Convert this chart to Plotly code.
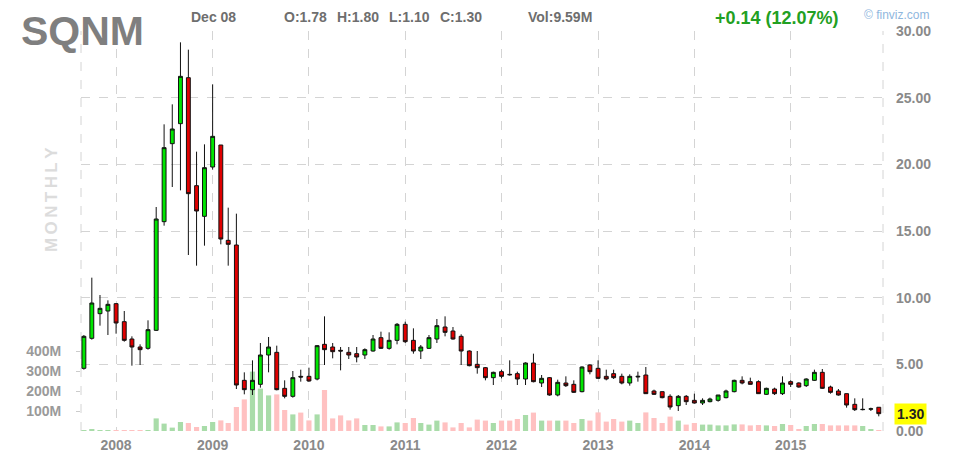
import pandas as pd
import plotly.graph_objects as go

# monthly bars, Sep 2007 .. Dec 2015
months = pd.date_range("2007-09-01", periods=100, freq="MS")

opens = [
    4.70, 6.95, 8.80, 9.00,
    9.55, 8.20, 6.90, 6.30, 6.20, 7.55, 15.70, 21.55, 23.05, 26.50, 18.40, 16.10,
    19.80, 21.45, 14.30, 13.95, 3.80, 3.10, 3.50, 5.70, 5.90, 3.20, 2.60, 4.10,
    4.10, 3.90, 6.50, 6.30, 6.05, 5.90, 5.80, 5.70, 6.00, 7.00, 6.20, 6.80,
    8.00, 6.80, 6.00, 6.20, 6.90, 7.80, 7.50, 7.10, 6.00, 5.00, 4.75, 4.00,
    4.45, 4.25, 4.30, 3.90, 5.10, 3.60, 4.00, 2.70, 3.60, 3.50, 2.95, 4.95,
    4.70, 4.10, 4.30, 4.10, 3.60, 4.05, 4.20, 3.00, 2.95, 2.60, 1.90, 2.60,
    2.30, 2.10, 2.20, 2.30, 2.50, 2.95, 3.80, 3.70, 3.70, 2.75, 3.15, 2.80,
    3.70, 3.60, 3.40, 3.80, 4.40, 3.30, 3.00, 2.80, 2.00, 1.60, 1.64, 1.78,
]
highs = [
    7.20, 11.50, 10.20, 9.80,
    9.60, 9.00, 7.10, 6.50, 8.30, 16.80, 23.00, 24.50, 29.15, 28.60, 20.95, 21.50,
    26.00, 21.45, 16.75, 16.30, 4.40, 5.30, 6.60, 7.05, 6.40, 3.80, 4.50, 4.60,
    4.75, 6.45, 8.60, 6.60, 6.30, 6.30, 6.30, 6.20, 7.20, 7.45, 7.40, 8.10,
    8.20, 7.70, 6.45, 7.20, 8.40, 8.60, 7.80, 7.25, 6.05, 6.00, 4.80, 4.45,
    4.60, 5.30, 4.45, 5.15, 5.80, 4.20, 4.05, 3.85, 4.10, 3.80, 4.85, 5.00,
    5.30, 4.60, 4.60, 4.30, 4.25, 4.45, 4.80, 3.10, 2.95, 2.75, 2.70, 2.70,
    2.80, 2.45, 2.50, 2.70, 3.10, 3.85, 4.10, 4.00, 3.80, 3.25, 3.25, 4.10,
    3.80, 3.65, 3.95, 4.60, 4.65, 3.40, 3.15, 2.82, 2.45, 2.45, 1.75, 1.80,
]
lows = [
    4.60, 6.85, 7.90, 7.20,
    7.30, 6.70, 4.90, 4.95, 6.10, 7.50, 15.40, 18.30, 18.05, 13.20, 12.40, 13.90,
    19.60, 14.00, 12.40, 3.15, 2.75, 2.70, 3.25, 4.40, 3.05, 2.45, 2.50, 3.70,
    3.70, 3.80, 4.95, 5.45, 4.55, 5.40, 5.15, 5.40, 5.95, 6.15, 6.10, 6.50,
    6.60, 5.80, 5.40, 6.15, 6.60, 7.10, 6.85, 4.95, 4.85, 4.30, 3.80, 3.45,
    3.95, 4.15, 3.45, 3.45, 3.65, 3.30, 2.65, 2.60, 3.30, 2.85, 2.90, 4.25,
    3.90, 3.80, 3.90, 3.50, 3.40, 3.70, 2.78, 2.70, 2.45, 1.60, 1.50, 1.95,
    2.05, 1.95, 2.15, 2.20, 2.45, 2.90, 3.50, 3.48, 2.78, 2.70, 2.70, 2.70,
    3.30, 3.25, 3.30, 3.75, 3.15, 2.80, 2.65, 1.75, 1.50, 1.55, 1.50, 1.10,
]
closes = [
    7.10, 9.60, 9.20, 9.50,
    8.10, 6.80, 6.30, 6.10, 7.60, 15.90, 21.25, 22.65, 26.60, 17.80, 16.50, 19.75,
    22.10, 14.40, 14.00, 3.45, 3.10, 3.80, 5.70, 6.30, 3.10, 2.60, 4.00, 4.05,
    3.75, 6.40, 6.10, 5.95, 6.00, 5.70, 5.55, 6.10, 6.90, 6.20, 6.80, 8.00,
    6.70, 6.00, 6.30, 7.00, 7.90, 7.40, 6.90, 6.00, 4.90, 4.75, 4.00, 4.40,
    4.10, 4.22, 3.90, 5.10, 3.70, 3.95, 2.70, 3.65, 3.40, 2.90, 4.80, 4.45,
    3.95, 3.90, 4.00, 3.60, 4.10, 4.10, 2.80, 2.75, 2.50, 1.80, 2.60, 2.20,
    2.10, 2.30, 2.40, 2.70, 3.00, 3.80, 3.60, 3.50, 2.80, 3.20, 2.80, 3.60,
    3.50, 3.30, 3.90, 4.40, 3.20, 2.90, 2.70, 1.95, 1.60, 1.62, 1.66, 1.30,
]
# volume in millions of shares
volume_m = [
    3, 8, 3, 3,
    3, 3, 3, 3, 3, 63, 37, 17, 45, 40, 20, 25,
    45, 53, 40, 120, 158, 297, 212, 178, 183, 105, 83, 92,
    53, 83, 205, 63, 78, 53, 63, 30, 30, 23, 23, 43,
    40, 65, 40, 32, 52, 43, 18, 40, 18, 57, 52, 40,
    52, 52, 60, 80, 92, 52, 52, 52, 52, 40, 60, 52,
    93, 47, 60, 47, 52, 40, 93, 65, 40, 72, 52, 32,
    40, 32, 32, 28, 28, 33, 33, 28, 30, 28, 25, 35,
    30, 10, 25, 35, 35, 28, 28, 28, 28, 25, 8, 5,
]
vol_ticks_m = [100, 200, 300, 400]

FONT = "Liberation Sans, Arial, sans-serif"
GRID = "#d4d4d4"
# the page adds an 8px body margin, so the figure is 8px smaller than the window
W, H = 956, 461
L, R, T, B = 73, 81, 23, 38
PW, PH = W - L - R, H - T - B
OFF = 8  # page offset of the figure


def px_x(px):
    return (px - OFF - L) / PW


def px_y(py):
    return (H - B - (py - OFF)) / PH


vol_colors = ["#a9dca9" if c >= o else "#ffc1c1" for o, c in zip(opens, closes)]

fig = go.Figure()
fig.add_trace(
    go.Bar(
        x=months,
        y=[v * 1e6 for v in volume_m],
        marker=dict(color=vol_colors, line_width=0),
        yaxis="y",
        hoverinfo="skip",
    )
)
fig.add_trace(
    go.Candlestick(
        x=months,
        open=opens,
        high=highs,
        low=lows,
        close=closes,
        yaxis="y2",
        increasing=dict(line=dict(color="#111111", width=1), fillcolor="#00e600"),
        decreasing=dict(line=dict(color="#111111", width=1), fillcolor="#e00000"),
    )
)

fig.update_layout(
    width=W,
    height=H,
    margin=dict(l=L, r=R, t=T, b=B, autoexpand=False),
    paper_bgcolor="white",
    plot_bgcolor="white",
    showlegend=False,
    bargap=0.3,
    boxgap=0.25,
    font=dict(family=FONT),
    xaxis=dict(
        type="date",
        range=["2007-08-21", "2015-12-17"],
        tick0="2008-01-01",
        dtick="M12",
        tickformat="%Y",
        showgrid=True,
        gridcolor=GRID,
        griddash="dash",
        zeroline=False,
        showline=False,
        ticks="",
        automargin=False,
        ticklabelstandoff=4,
        tickfont=dict(size=14, color="#8a8a8a", weight="bold"),
        rangeslider=dict(visible=False),
    ),
    yaxis=dict(
        range=[0, 2000e6],
        side="left",
        showgrid=False,
        zeroline=False,
        showline=False,
        automargin=False,
        tickvals=[v * 1e6 for v in vol_ticks_m],
        ticktext=[f"{v}M" for v in vol_ticks_m],
        ticks="outside",
        ticklen=4,
        tickcolor="#cccccc",
        ticklabelstandoff=12,
        tickfont=dict(size=14, color="#9a9a9a", weight="bold"),
    ),
    yaxis2=dict(
        range=[0, 30],
        overlaying="y",
        side="right",
        dtick=5,
        tickformat=".2f",
        showgrid=True,
        gridcolor=GRID,
        griddash="dash",
        zeroline=False,
        showline=False,
        automargin=False,
        ticks="",
        ticklabelstandoff=12,
        tickfont=dict(size=14, color="#8a8a8a", weight="bold"),
    ),
)

# dashed frame on the left and right edges
for xe in (0, 1):
    fig.add_shape(
        type="line", xref="paper", yref="paper", x0=xe, x1=xe, y0=0, y1=1,
        line=dict(color=GRID, width=1, dash="dash"), layer="below",
    )

header = [
    ("SQNM", 19, 31, 41, "#7f7f7f", "bold"),
    ("Dec 08", 189, 16.5, 14, "#6e6e6e", "bold"),
    ("O:1.78", 282, 16.5, 14, "#6e6e6e", "bold"),
    ("H:1.80", 335, 16.5, 14, "#6e6e6e", "bold"),
    ("L:1.10", 387, 16.5, 14, "#6e6e6e", "bold"),
    ("C:1.30", 438, 16.5, 14, "#6e6e6e", "bold"),
    ("Vol:9.59M", 526, 16.5, 14, "#6e6e6e", "bold"),
    ("+0.14 (12.07%)", 713, 18.2, 18, "#22a022", "bold"),
    ("\u00a9 finviz.com", 862, 15.5, 12, "#8fb7de", "normal"),
]
for text, x0, yc, size, color, weight in header:
    fig.add_annotation(
        text=text, xref="paper", yref="paper", x=px_x(x0), y=px_y(yc),
        xanchor="left", yanchor="middle", showarrow=False,
        font=dict(size=size, color=color, weight=weight),
    )

# spaced-out vertical timeframe label
fig.add_annotation(
    text="\u2009".join("MONTHLY"), xref="paper", yref="paper",
    x=px_x(51), y=px_y(200), xanchor="center", yanchor="middle",
    textangle=-90, showarrow=False,
    font=dict(size=17, color="#dcdcdc", weight="bold"),
)

# last close marker on the price axis
fig.add_annotation(
    text="1.30", xref="paper", yref="y2", x=px_x(894), y=closes[-1],
    xanchor="left", yanchor="middle", showarrow=False,
    bgcolor="#ffff00", borderpad=2,
    font=dict(size=14, color="#222222", weight="bold"),
)

fig.write_html("out.html")
